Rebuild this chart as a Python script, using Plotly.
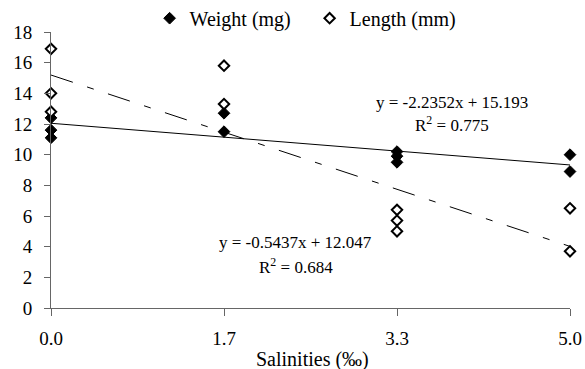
import plotly.graph_objects as go

# ---- data ----
salinity_ticks = [0.0, 5/3, 10/3, 5.0]
salinity_labels = ["0.0", "1.7", "3.3", "5.0"]

weight_x = [0.0, 0.0, 0.0, 5/3, 5/3, 10/3, 10/3, 10/3, 5.0, 5.0]
weight_y = [12.4, 11.6, 11.1, 12.7, 11.5, 10.2, 9.9, 9.5, 10.0, 8.9]

length_x = [0.0, 0.0, 0.0, 5/3, 5/3, 10/3, 10/3, 10/3, 5.0, 5.0]
length_y = [16.9, 14.0, 12.8, 15.8, 13.3, 6.4, 5.7, 5.0, 6.5, 3.7]

# trendline coefficients (slope, intercept) as printed on the chart
weight_fit = (-0.5437, 12.047)
length_fit = (-2.2352, 15.193)
weight_r2 = "0.684"
length_r2 = "0.775"
trend_x = [0.0, 5.0]

FONT = "'Liberation Serif', 'Times New Roman', Times, serif"
AX = "#666666"

fig = go.Figure()

fig.add_trace(go.Scatter(
    x=trend_x, y=[weight_fit[1] + weight_fit[0] * v for v in trend_x],
    mode="lines", line=dict(color="black", width=1), showlegend=False, hoverinfo="skip"))
fig.add_trace(go.Scatter(
    x=trend_x, y=[length_fit[1] + length_fit[0] * v for v in trend_x],
    mode="lines", line=dict(color="black", width=1, dash="23px,15px,7px,15px"),
    showlegend=False, hoverinfo="skip"))

fig.add_trace(go.Scatter(
    x=weight_x, y=weight_y, mode="markers", name="Weight (mg)", cliponaxis=False,
    marker=dict(symbol="diamond", size=9, color="black", line=dict(color="black", width=1))))
fig.add_trace(go.Scatter(
    x=length_x, y=length_y, mode="markers", name="Length (mm)", cliponaxis=False,
    marker=dict(symbol="diamond", size=8, color="white", line=dict(color="black", width=2))))

def eq(slope, icpt):
    return f"y = {slope:.4f}x + {icpt:.3f}"

ann_font = dict(family=FONT, size=17, color="black")
fig.add_annotation(x=3.863, y=13.37, xref="x", yref="y", text=eq(*length_fit),
                   showarrow=False, font=ann_font, xanchor="center", yanchor="middle")
fig.add_annotation(x=3.863, y=12.0, xref="x", yref="y", text=f"R<sup>2</sup> = {length_r2}",
                   showarrow=False, font=ann_font, xanchor="center", yanchor="middle")
fig.add_annotation(x=2.36, y=4.24, xref="x", yref="y", text=eq(*weight_fit),
                   showarrow=False, font=ann_font, xanchor="center", yanchor="middle")
fig.add_annotation(x=2.36, y=2.74, xref="x", yref="y", text=f"R<sup>2</sup> = {weight_r2}",
                   showarrow=False, font=ann_font, xanchor="center", yanchor="middle")
fig.add_annotation(x=0.503, y=-0.188, xref="paper", yref="paper", text="Salinities (‰)",
                   showarrow=False, font=dict(family=FONT, size=20, color="black"),
                   xanchor="center", yanchor="middle")

fig.update_layout(
    width=585, height=369,
    margin=dict(l=51, r=15, t=32, b=61, pad=0, autoexpand=False),
    paper_bgcolor="white", plot_bgcolor="white",
    font=dict(family=FONT, size=19, color="black"),
    legend=dict(orientation="h", x=0.19, y=1.05, xanchor="left", yanchor="middle",
                font=dict(family=FONT, size=20, color="black"),
                bgcolor="rgba(0,0,0,0)", borderwidth=0, itemwidth=30,
                entrywidth=115, entrywidthmode="pixels"),
    xaxis=dict(range=[0, 5], tickmode="array", tickvals=salinity_ticks, ticktext=salinity_labels,
               showgrid=False, zeroline=False, showline=True, linecolor=AX, linewidth=1,
               ticks="outside", ticklen=7, tickcolor=AX, tickwidth=1, automargin=False,
               tickfont=dict(family=FONT, size=19, color="black"), ticklabelstandoff=6),
    yaxis=dict(range=[0, 18], dtick=2, tick0=0, automargin=False,
               showgrid=False, zeroline=False, showline=True, linecolor=AX, linewidth=1,
               ticks="outside", ticklen=6, tickcolor=AX, tickwidth=1,
               tickfont=dict(family=FONT, size=19, color="black"), ticklabelstandoff=8),
)

fig.write_html("out.html")
